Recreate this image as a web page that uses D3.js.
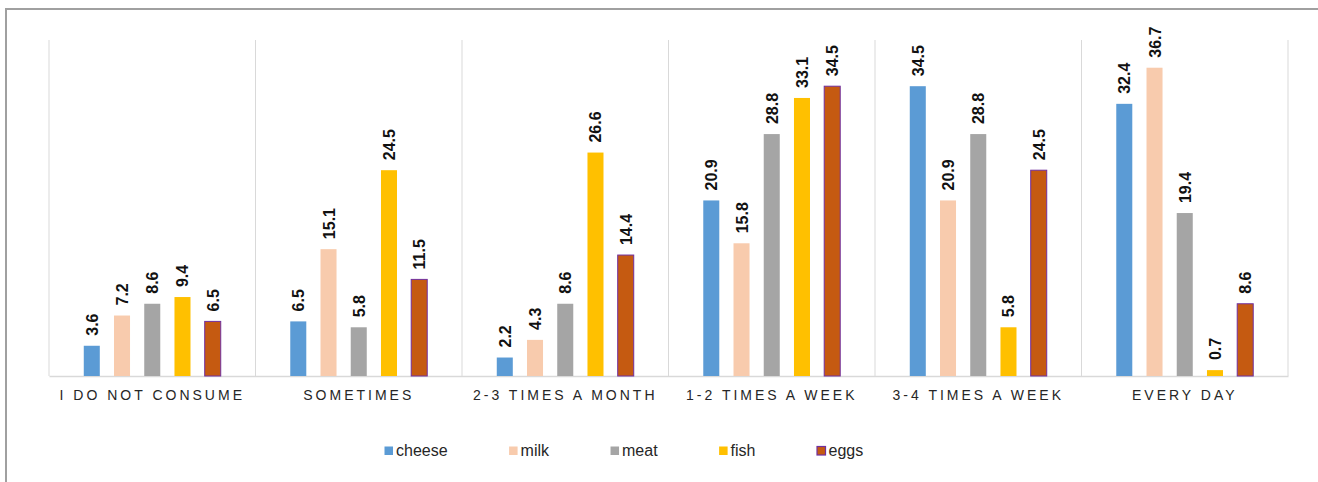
<!DOCTYPE html>
<html>
<head>
<meta charset="utf-8">
<script src="https://cdn.jsdelivr.net/npm/d3@7"></script>
<style>
  html, body { margin: 0; padding: 0; background: #fff; }
  svg { display: block; font-family: "Liberation Sans", Arial, sans-serif; }
</style>
</head>
<body>
<svg id="chart" width="1318" height="482"></svg>
<script>
// Frequency of consumption (%) per food item
const categories = ["I DO NOT CONSUME", "SOMETIMES", "2-3 TIMES A MONTH", "1-2 TIMES A WEEK", "3-4 TIMES A WEEK", "EVERY DAY"];
const seriesNames = ["cheese", "milk", "meat", "fish", "eggs"];
const cheese = [3.6, 6.5, 2.2, 20.9, 34.5, 32.4];
const milk   = [7.2, 15.1, 4.3, 15.8, 20.9, 36.7];
const meat   = [8.6, 5.8, 8.6, 28.8, 28.8, 19.4];
const fish   = [9.4, 24.5, 26.6, 33.1, 5.8, 0.7];
const eggs   = [6.5, 11.5, 14.4, 34.5, 24.5, 8.6];

const seriesValues = { cheese, milk, meat, fish, eggs };
const colors = { cheese: "#5B9BD5", milk: "#F8CBAD", meat: "#A5A5A5", fish: "#FFC000", eggs: "#C55A11" };
const strokes = { eggs: "#7030A0" };

const svg = d3.select("#chart");

// outer frame (only the left and top edges fall inside the view)
svg.append("rect")
  .attr("x", 6).attr("y", 9)
  .attr("width", 1400).attr("height", 600)
  .attr("fill", "none")
  .attr("stroke", "#A0A0A0")
  .attr("stroke-width", 2);

const plot = { left: 49, right: 1288, top: 40, bottom: 376 };

const x0 = d3.scaleBand()
  .domain(categories)
  .range([plot.left, plot.right])
  .padding(0);

const x1 = d3.scaleBand()
  .domain(seriesNames)
  .range([0, x0.bandwidth()])
  .paddingInner(0.47)
  .paddingOuter(1.15);

const y = d3.scaleLinear()
  .domain([0, 40])
  .range([plot.bottom, plot.top]);

// vertical separators between categories
const bounds = categories.map(c => x0(c)).concat([plot.right]);
svg.append("g")
  .selectAll("line")
  .data(bounds)
  .join("line")
  .attr("x1", d => d).attr("x2", d => d)
  .attr("y1", plot.top).attr("y2", plot.bottom)
  .attr("stroke", "#D9D9D9")
  .attr("stroke-width", 1);

// category axis
const xAxis = svg.append("g")
  .attr("transform", `translate(0,${plot.bottom})`)
  .call(d3.axisBottom(x0).tickSize(0).tickPadding(14));
xAxis.select(".domain").attr("stroke", "#D9D9D9").attr("stroke-width", 1.5);
xAxis.selectAll("text")
  .attr("font-family", "'Liberation Sans', Arial, sans-serif")
  .attr("font-size", 14)
  .attr("letter-spacing", "3px")
  .attr("fill", "#262626");

// bars
const groups = svg.append("g")
  .selectAll("g")
  .data(categories)
  .join("g")
  .attr("transform", c => `translate(${x0(c)},0)`);

const cells = groups.selectAll("g")
  .data((c, i) => seriesNames.map(s => ({ s, v: seriesValues[s][i] })))
  .join("g");

cells.append("rect")
  .attr("x", d => x1(d.s))
  .attr("width", x1.bandwidth())
  .attr("y", d => y(d.v))
  .attr("height", d => y(0) - y(d.v))
  .attr("fill", d => colors[d.s])
  .attr("stroke", d => strokes[d.s] || "none")
  .attr("stroke-width", 1);

cells.append("text")
  .attr("transform", d => `translate(${x1(d.s) + x1.bandwidth() / 2 + 6},${y(d.v) - 10}) rotate(-90)`)
  .attr("text-anchor", "start")
  .attr("font-size", 16)
  .attr("font-weight", "bold")
  .attr("fill", "#111")
  .text(d => d.v.toFixed(1));

// legend
const legend = svg.append("g");
let lx = 384;
seriesNames.forEach(s => {
  const item = legend.append("g").attr("transform", `translate(${lx},0)`);
  item.append("rect")
    .attr("x", 0.5).attr("y", 446.5)
    .attr("width", 8.5).attr("height", 8.5)
    .attr("fill", colors[s])
    .attr("stroke", strokes[s] || "none")
    .attr("stroke-width", 1.2);
  const t = item.append("text")
    .attr("x", 12).attr("y", 456)
    .attr("font-size", 16)
    .attr("fill", "#262626")
    .text(s);
  lx += 12 + t.node().getComputedTextLength() + 61;
});
</script>
</body>
</html>
